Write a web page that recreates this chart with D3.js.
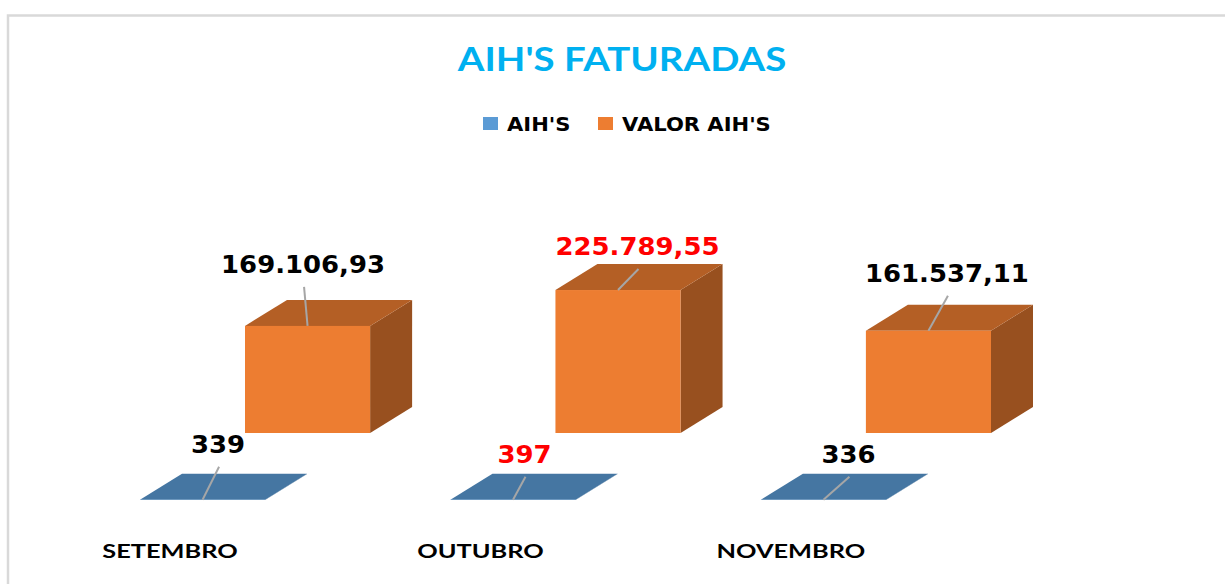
<!DOCTYPE html>
<html>
<head>
<meta charset="utf-8">
<script src="https://cdn.jsdelivr.net/npm/d3@7"></script>
<style>
body { margin: 0; background: #fff; }
</style>
</head>
<body>
<div id="chart"></div>
<script>
var categories = ["SETEMBRO", "OUTUBRO", "NOVEMBRO"];
var seriesNames = ["AIH'S", "VALOR AIH'S"];
var aihs = [339, 397, 336];
var valorAihs = [169106.93, 225789.55, 161537.11];
var aihsLabels = ["339", "397", "336"];
var valorLabels = ["169.106,93", "225.789,55", "161.537,11"];
var highlight = [false, true, false];

var W = 1225, H = 584;
var colors = ["#5B9BD5", "#ED7D31"];
var depth = {x: 42, y: -26};
var rowShift = [{x: 0, y: 0}, {x: 105, y: -67}];
var labelOffsets = [
  [{dx: 15.5, dy: -47}, {dx: 11.5, dy: -37}, {dx: 25, dy: -37}],
  [{dx: -4.5, dy: -53}, {dx: 19.5, dy: -35}, {dx: 18.5, dy: -49}]
];

var svg = d3.select("#chart")
.append("svg")
.attr("width", W)
.attr("height", H)
.style("font-family", "Lato, 'Open Sans', sans-serif");

svg.append("rect")
.attr("x", 8).attr("y", 15.5)
.attr("width", 1400).attr("height", 800)
.attr("fill", "#fff")
.attr("stroke", "#D9D9D9")
.attr("stroke-width", 2.5);

var xScale = d3.scaleBand()
.domain(categories)
.range([140, 886])
.paddingInner(0.597)
.paddingOuter(0);

var yScale = d3.scaleLinear()
.domain([0, 250000])
.range([500, 500 - 158.3]);

function stretchText(g, x, y, txt, size, sx, fill, anchor) {
  return g.append("text")
  .attr("transform", "translate(" + x + "," + y + ") scale(" + sx + ",1)")
  .attr("text-anchor", anchor || "middle")
  .attr("font-size", size)
  .attr("font-weight", "bold")
  .attr("fill", fill)
  .text(txt);
}

// title
stretchText(svg, 622, 71, "AIH'S FATURADAS", 32, 1.2, "#00B0F0");

// legend
var legend = svg.append("g").style("font-family", "'DejaVu Sans', Verdana, sans-serif");
var legendX = [483, 598];
seriesNames.forEach(function (s, i) {
  legend.append("rect")
  .attr("x", legendX[i]).attr("y", 117)
  .attr("width", 15).attr("height", 13)
  .attr("fill", colors[i]);
  stretchText(legend, legendX[i] + 24, 131, s, 19, 1.11, "#000", "start");
});

function shade(c, k) {
  var r = d3.rgb(c);
  return d3.rgb(r.r * k, r.g * k, r.b * k).formatHex();
}

var bars = svg.append("g");
var series = [aihs, valorAihs];
// back row first
[1, 0].forEach(function (si) {
  series[si].forEach(function (v, ci) {
    var x0 = xScale(categories[ci]) + rowShift[si].x;
    var w = xScale.bandwidth();
    var yb = yScale(0) + rowShift[si].y;
    var yt = yScale(v) + rowShift[si].y;
    var g = bars.append("g");
    // right side
    g.append("path")
    .attr("d", "M" + (x0 + w) + "," + yb + "L" + (x0 + w + depth.x) + "," + (yb + depth.y) +
      "L" + (x0 + w + depth.x) + "," + (yt + depth.y) + "L" + (x0 + w) + "," + yt + "Z")
    .attr("fill", shade(colors[si], 0.64));
    // top
    g.append("path")
    .attr("d", "M" + x0 + "," + yt + "L" + (x0 + w) + "," + yt + "L" + (x0 + w + depth.x) + "," + (yt + depth.y) +
      "L" + (x0 + depth.x) + "," + (yt + depth.y) + "Z")
    .attr("fill", shade(colors[si], 0.76));
    // front
    g.append("rect")
    .attr("x", x0).attr("y", yt)
    .attr("width", w).attr("height", yb - yt)
    .attr("fill", colors[si]);
  });
});

// data labels with leader lines
var labels = svg.append("g").style("font-family", "'DejaVu Sans', Verdana, sans-serif");
var labelText = [aihsLabels, valorLabels];
[0, 1].forEach(function (si) {
  series[si].forEach(function (v, ci) {
    var cx = xScale(categories[ci]) + rowShift[si].x + xScale.bandwidth() / 2;
    var cy = yScale(v) + rowShift[si].y;
    var off = labelOffsets[si][ci];
    var lx = cx + off.dx, ly = cy + off.dy;
    labels.append("line")
    .attr("x1", lx + 1).attr("y1", ly + 14)
    .attr("x2", cx).attr("y2", cy)
    .attr("stroke", "#A6A6A6")
    .attr("stroke-width", 2);
    stretchText(labels, lx, ly, labelText[si][ci], 24, 1.08, highlight[ci] ? "#FF0000" : "#000");
  });
});

// category labels
var cats = svg.append("g");
categories.forEach(function (c) {
  stretchText(cats, xScale(c) + 30, 558, c, 19.5, 1.3, "#000");
});
</script>
</body>
</html>
